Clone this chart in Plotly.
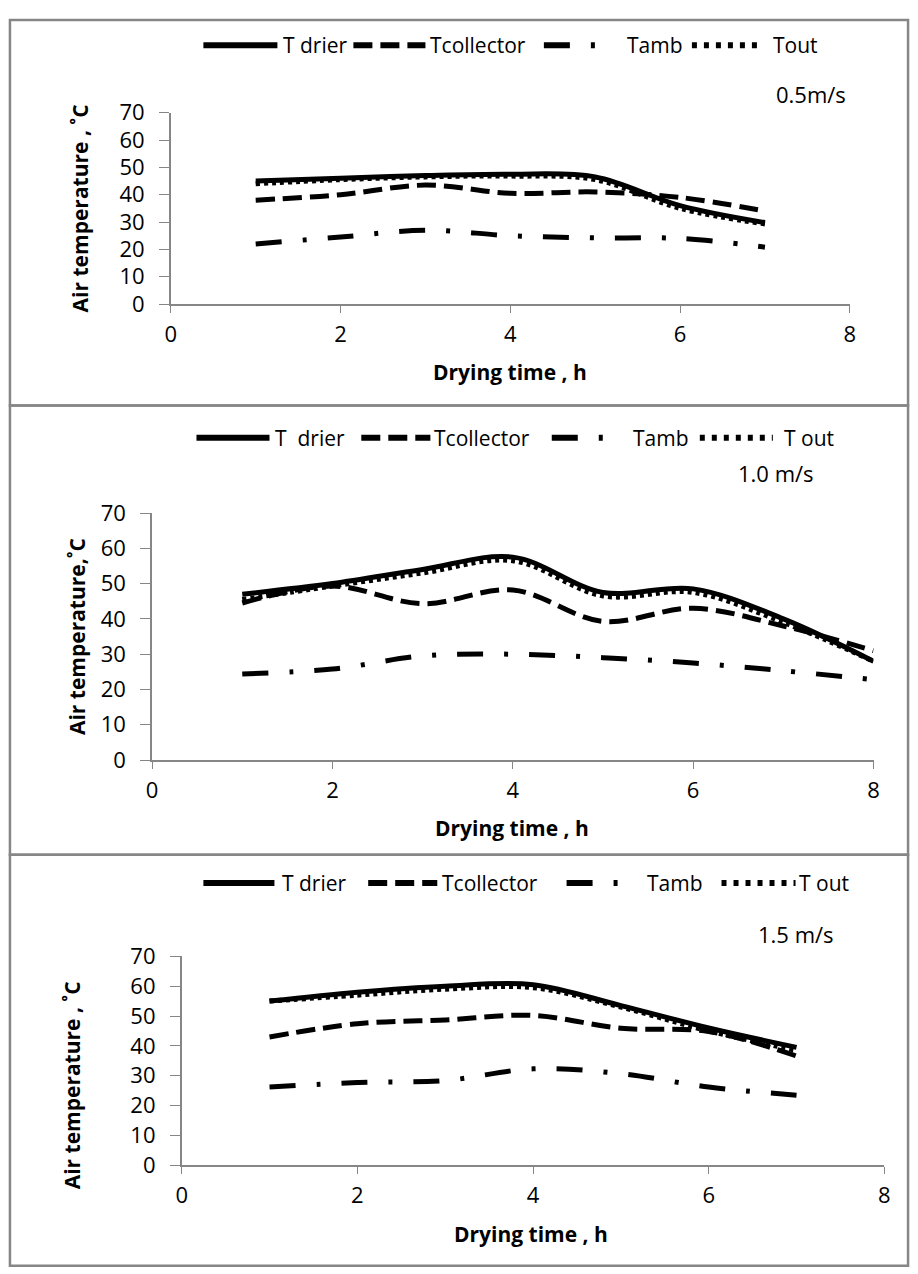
import plotly.graph_objects as go

W, H = 918, 1274

# ---------------- data ----------------
time_p1 = [1, 2, 3, 4, 5, 6, 7]
t_drier_p1 = [45, 46, 47, 47.5, 46.5, 36, 29.8]
t_collector_p1 = [38, 40, 43.5, 40.5, 41, 39, 34]
t_amb_p1 = [22, 24.5, 27, 25, 24.2, 24, 20.8]
t_out_p1 = [44, 45.5, 46.5, 46.8, 45.5, 35, 29.3]

time_p2 = [1, 2, 3, 4, 5, 6, 7, 8]
t_drier_p2 = [47, 50, 54, 57.5, 47.5, 48.5, 40, 28]
t_collector_p2 = [44.5, 49.3, 44.3, 48.2, 39.3, 43, 38, 31]
t_amb_p2 = [24.4, 25.8, 29.5, 30, 29, 27.5, 25.3, 22.8]
t_out_p2 = [45.5, 49.3, 53, 56.5, 46.5, 47.5, 39, 28]

time_p3 = [1, 2, 3, 4, 5, 6, 7]
t_drier_p3 = [55, 58, 60, 60.5, 53.5, 46, 39.5]
t_collector_p3 = [43, 47.4, 48.7, 50.2, 45.9, 44.8, 36.6]
t_amb_p3 = [26.2, 27.7, 28.4, 32.3, 30.7, 26.2, 23.5]
t_out_p3 = [55, 57, 59, 59.5, 53, 45, 38.5]

y_ticks = [0, 10, 20, 30, 40, 50, 60, 70]
x_ticks = [0, 2, 4, 6, 8]

panels = [
    dict(x=time_p1, s=[t_drier_p1, t_collector_p1, t_amb_p1, t_out_p1],
         names=["T drier", "Tcollector", "Tamb", "Tout"],
         speed="0.5m/s", ytitle="Air temperature , ˚C"),
    dict(x=time_p2, s=[t_drier_p2, t_collector_p2, t_amb_p2, t_out_p2],
         names=["T  drier", "Tcollector", "Tamb", "T out"],
         speed="1.0 m/s", ytitle="Air temperature,˚C"),
    dict(x=time_p3, s=[t_drier_p3, t_collector_p3, t_amb_p3, t_out_p3],
         names=["T drier", "Tcollector", "Tamb", "T out"],
         speed="1.5 m/s", ytitle="Air temperature , ˚C"),
]

# ---------------- layout geometry (pixels) ----------------
geo = [
    dict(x0=167, x1=855, y70=99, y0=295, frame=(4, 399), leg_y=30,
         leg=[(200, 275, 279), (352, 425, 428), (545, 600, 627), (695, 765, 775)],
         speed_xy=(816, 80), yt=(75, 197), xt=(511, 365)),
    dict(x0=148, x1=879, y70=509, y0=762, frame=(399, 859), leg_y=432,
         leg=[(193, 267, 271), (360, 430, 432), (553, 607, 633), (703, 777, 786)],
         speed_xy=(780, 468), yt=(72, 636), xt=(513, 832)),
    dict(x0=178, x1=890, y70=963, y0=1177, frame=(859, 1280), leg_y=888,
         leg=[(200, 272, 278), (367, 437, 440), (568, 622, 647), (725, 800, 801)],
         speed_xy=(800, 940), yt=(67, 1095), xt=(532, 1247)),
]

def fx(px):
    return px / W

def fy(py):
    return 1 - py / H

dashes = ["solid", "19px,8px", "26px,21px,4px,21px", "4px,4px"]
leg_dashes = ["solid", "19px,8px", "26px,21px,4px,21px", "5px,7px"]
FONT = "Open Sans"
AXCOL = "#868686"
TXT = "#000000"

fig = go.Figure()
shapes = []
annotations = []

for i, (p, g) in enumerate(zip(panels, geo)):
    sfx = "" if i == 0 else str(i + 1)
    for s, d in zip(p["s"], dashes):
        fig.add_trace(go.Scatter(
            x=p["x"], y=s, mode="lines",
            line=dict(color="black", width=5, dash=d, shape="spline", smoothing=1.0),
            xaxis="x" + sfx, yaxis="y" + sfx, showlegend=False, hoverinfo="skip"))
    common = dict(showgrid=False, zeroline=False, showline=True, linecolor=AXCOL,
                  linewidth=1.5, ticks="outside", tickcolor=AXCOL,
                  tickfont=dict(family=FONT, size=22, color=TXT))
    fig.update_layout(**{
        "xaxis" + sfx: dict(domain=[fx(g["x0"]), fx(g["x1"])], range=[0, 8], ticklen=7,
                            tickvals=x_ticks, anchor="y" + sfx, ticklabelstandoff=3, **common),
        "yaxis" + sfx: dict(domain=[fy(g["y0"]), fy(g["y70"])], range=[0, 70], ticklen=10,
                            tickvals=y_ticks, anchor="x" + sfx, ticklabelstandoff=10, **common),
    })
    # frame
    ft, fb = g["frame"]
    shapes.append(dict(type="rect", xref="paper", yref="paper",
                       x0=fx(4), x1=fx(914), y0=fy(fb), y1=fy(ft),
                       line=dict(color=AXCOL, width=2.5)))
    # legend (manual)
    for (lx0, lx1, tx), name, d in zip(g["leg"], p["names"], leg_dashes):
        shapes.append(dict(type="line", xref="paper", yref="paper",
                           x0=fx(lx0), x1=fx(lx1), y0=fy(g["leg_y"]), y1=fy(g["leg_y"]),
                           line=dict(color="black", width=6, dash=d)))
        annotations.append(dict(text=name, xref="paper", yref="paper",
                                x=fx(tx), y=fy(g["leg_y"]), xanchor="left", yanchor="middle",
                                showarrow=False, font=dict(family=FONT, size=21, color=TXT)))
    annotations.append(dict(text=p["speed"], xref="paper", yref="paper",
                            x=fx(g["speed_xy"][0]), y=fy(g["speed_xy"][1]),
                            xanchor="center", yanchor="middle", showarrow=False,
                            font=dict(family=FONT, size=22, color=TXT)))
    annotations.append(dict(text="<b>" + p["ytitle"] + "</b>", xref="paper", yref="paper",
                            x=fx(g["yt"][0]), y=fy(g["yt"][1]), textangle=-90,
                            xanchor="center", yanchor="middle", showarrow=False,
                            font=dict(family=FONT, size=21, color=TXT)))
    annotations.append(dict(text="<b>Drying time , h</b>", xref="paper", yref="paper",
                            x=fx(g["xt"][0]), y=fy(g["xt"][1]),
                            xanchor="center", yanchor="middle", showarrow=False,
                            font=dict(family=FONT, size=21, color=TXT)))

fig.update_layout(width=W, height=H, margin=dict(l=0, r=0, t=0, b=0),
                  paper_bgcolor="white", plot_bgcolor="white",
                  shapes=shapes, annotations=annotations, showlegend=False)

fig.write_html("out.html")
